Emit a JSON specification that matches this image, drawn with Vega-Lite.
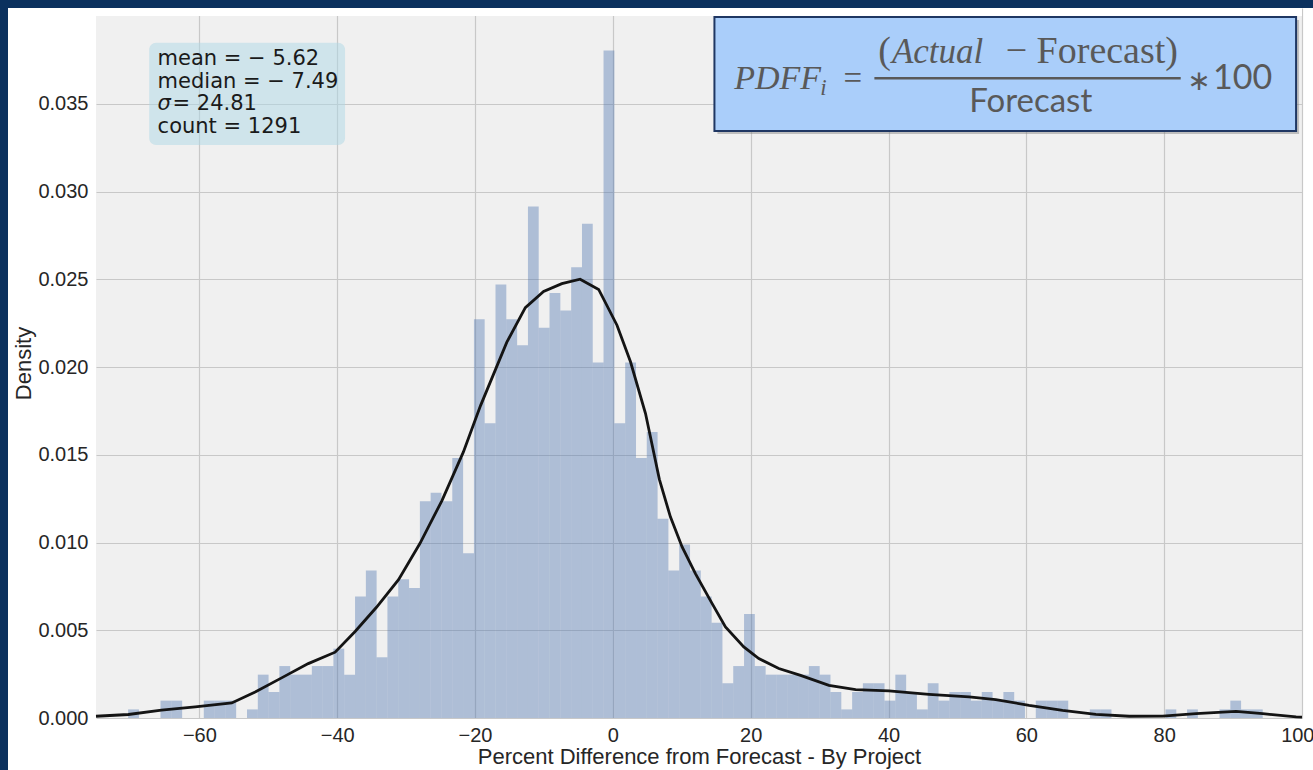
{
  "$schema": "https://vega.github.io/schema/vega-lite/v6.json",
  "padding": 0,
  "background": "#ffffff",
  "config": {
    "view": {"stroke": null},
    "font": "Liberation Sans"
  },
  "datasets": {
    "bins": [
      {"bin_start": -70.34, "bin_end": -68.77, "density": 0.00049},
      {"bin_start": -65.64, "bin_end": -64.07, "density": 0.00099},
      {"bin_start": -64.07, "bin_end": -62.50, "density": 0.00099},
      {"bin_start": -59.36, "bin_end": -57.80, "density": 0.00099},
      {"bin_start": -57.80, "bin_end": -56.23, "density": 0.00099},
      {"bin_start": -56.23, "bin_end": -54.66, "density": 0.00099},
      {"bin_start": -53.09, "bin_end": -51.52, "density": 0.00049},
      {"bin_start": -51.52, "bin_end": -49.96, "density": 0.00247},
      {"bin_start": -49.96, "bin_end": -48.39, "density": 0.00148},
      {"bin_start": -48.39, "bin_end": -46.82, "density": 0.00296},
      {"bin_start": -46.82, "bin_end": -45.25, "density": 0.00247},
      {"bin_start": -45.25, "bin_end": -43.68, "density": 0.00247},
      {"bin_start": -43.68, "bin_end": -42.12, "density": 0.00296},
      {"bin_start": -42.12, "bin_end": -40.55, "density": 0.00296},
      {"bin_start": -40.55, "bin_end": -38.98, "density": 0.00395},
      {"bin_start": -38.98, "bin_end": -37.41, "density": 0.00247},
      {"bin_start": -37.41, "bin_end": -35.84, "density": 0.00692},
      {"bin_start": -35.84, "bin_end": -34.28, "density": 0.00840},
      {"bin_start": -34.28, "bin_end": -32.71, "density": 0.00346},
      {"bin_start": -32.71, "bin_end": -31.14, "density": 0.00692},
      {"bin_start": -31.14, "bin_end": -29.57, "density": 0.00790},
      {"bin_start": -29.57, "bin_end": -28.00, "density": 0.00741},
      {"bin_start": -28.00, "bin_end": -26.44, "density": 0.01235},
      {"bin_start": -26.44, "bin_end": -24.87, "density": 0.01284},
      {"bin_start": -24.87, "bin_end": -23.30, "density": 0.01235},
      {"bin_start": -23.30, "bin_end": -21.73, "density": 0.01482},
      {"bin_start": -21.73, "bin_end": -20.16, "density": 0.00939},
      {"bin_start": -20.16, "bin_end": -18.60, "density": 0.02272},
      {"bin_start": -18.60, "bin_end": -17.03, "density": 0.01680},
      {"bin_start": -17.03, "bin_end": -15.46, "density": 0.02470},
      {"bin_start": -15.46, "bin_end": -13.89, "density": 0.02272},
      {"bin_start": -13.89, "bin_end": -12.32, "density": 0.02124},
      {"bin_start": -12.32, "bin_end": -10.76, "density": 0.02915},
      {"bin_start": -10.76, "bin_end": -9.19, "density": 0.02223},
      {"bin_start": -9.19, "bin_end": -7.62, "density": 0.02421},
      {"bin_start": -7.62, "bin_end": -6.05, "density": 0.02322},
      {"bin_start": -6.05, "bin_end": -4.48, "density": 0.02569},
      {"bin_start": -4.48, "bin_end": -2.92, "density": 0.02816},
      {"bin_start": -2.92, "bin_end": -1.35, "density": 0.02025},
      {"bin_start": -1.35, "bin_end": 0.22, "density": 0.03804},
      {"bin_start": 0.22, "bin_end": 1.79, "density": 0.01680},
      {"bin_start": 1.79, "bin_end": 3.36, "density": 0.02025},
      {"bin_start": 3.36, "bin_end": 4.92, "density": 0.01482},
      {"bin_start": 4.92, "bin_end": 6.49, "density": 0.01630},
      {"bin_start": 6.49, "bin_end": 8.06, "density": 0.01136},
      {"bin_start": 8.06, "bin_end": 9.63, "density": 0.00840},
      {"bin_start": 9.63, "bin_end": 11.20, "density": 0.00988},
      {"bin_start": 11.20, "bin_end": 12.76, "density": 0.00840},
      {"bin_start": 12.76, "bin_end": 14.33, "density": 0.00692},
      {"bin_start": 14.33, "bin_end": 15.90, "density": 0.00543},
      {"bin_start": 15.90, "bin_end": 17.47, "density": 0.00198},
      {"bin_start": 17.47, "bin_end": 19.04, "density": 0.00296},
      {"bin_start": 19.04, "bin_end": 20.60, "density": 0.00593},
      {"bin_start": 20.60, "bin_end": 22.17, "density": 0.00296},
      {"bin_start": 22.17, "bin_end": 23.74, "density": 0.00247},
      {"bin_start": 23.74, "bin_end": 25.31, "density": 0.00247},
      {"bin_start": 25.31, "bin_end": 26.88, "density": 0.00247},
      {"bin_start": 26.88, "bin_end": 28.44, "density": 0.00247},
      {"bin_start": 28.44, "bin_end": 30.01, "density": 0.00296},
      {"bin_start": 30.01, "bin_end": 31.58, "density": 0.00247},
      {"bin_start": 31.58, "bin_end": 33.15, "density": 0.00148},
      {"bin_start": 33.15, "bin_end": 34.72, "density": 0.00049},
      {"bin_start": 34.72, "bin_end": 36.28, "density": 0.00148},
      {"bin_start": 36.28, "bin_end": 37.85, "density": 0.00198},
      {"bin_start": 37.85, "bin_end": 39.42, "density": 0.00198},
      {"bin_start": 39.42, "bin_end": 40.99, "density": 0.00099},
      {"bin_start": 40.99, "bin_end": 42.56, "density": 0.00247},
      {"bin_start": 42.56, "bin_end": 44.12, "density": 0.00148},
      {"bin_start": 44.12, "bin_end": 45.69, "density": 0.00049},
      {"bin_start": 45.69, "bin_end": 47.26, "density": 0.00198},
      {"bin_start": 47.26, "bin_end": 48.83, "density": 0.00099},
      {"bin_start": 48.83, "bin_end": 50.40, "density": 0.00148},
      {"bin_start": 50.40, "bin_end": 51.96, "density": 0.00148},
      {"bin_start": 51.96, "bin_end": 53.53, "density": 0.00099},
      {"bin_start": 53.53, "bin_end": 55.10, "density": 0.00148},
      {"bin_start": 55.10, "bin_end": 56.67, "density": 0.00099},
      {"bin_start": 56.67, "bin_end": 58.24, "density": 0.00148},
      {"bin_start": 58.24, "bin_end": 59.80, "density": 0.00099},
      {"bin_start": 61.37, "bin_end": 62.94, "density": 0.00099},
      {"bin_start": 62.94, "bin_end": 64.51, "density": 0.00099},
      {"bin_start": 64.51, "bin_end": 66.08, "density": 0.00099},
      {"bin_start": 69.21, "bin_end": 70.78, "density": 0.00049},
      {"bin_start": 70.78, "bin_end": 72.35, "density": 0.00049},
      {"bin_start": 80.19, "bin_end": 81.76, "density": 0.00049},
      {"bin_start": 83.32, "bin_end": 84.89, "density": 0.00049},
      {"bin_start": 88.03, "bin_end": 89.60, "density": 0.00049},
      {"bin_start": 89.60, "bin_end": 91.16, "density": 0.00099},
      {"bin_start": 91.16, "bin_end": 92.73, "density": 0.00049},
      {"bin_start": 92.73, "bin_end": 94.30, "density": 0.00049}
    ],
    "kde": [
      {"pct": -75.0, "density": 0.00010},
      {"pct": -70.3, "density": 0.00020},
      {"pct": -65.5, "density": 0.00045},
      {"pct": -60.6, "density": 0.00063},
      {"pct": -55.3, "density": 0.00086},
      {"pct": -51.9, "density": 0.00148},
      {"pct": -48.0, "density": 0.00230},
      {"pct": -44.2, "density": 0.00310},
      {"pct": -40.3, "density": 0.00375},
      {"pct": -37.4, "density": 0.00493},
      {"pct": -34.3, "density": 0.00631},
      {"pct": -31.1, "density": 0.00788},
      {"pct": -28.0, "density": 0.00994},
      {"pct": -24.8, "density": 0.01239},
      {"pct": -21.7, "density": 0.01515},
      {"pct": -19.2, "density": 0.01780},
      {"pct": -15.4, "density": 0.02140},
      {"pct": -12.7, "density": 0.02338},
      {"pct": -10.05, "density": 0.02430},
      {"pct": -7.4, "density": 0.02475},
      {"pct": -4.75, "density": 0.02500},
      {"pct": -2.06, "density": 0.02442},
      {"pct": 0.6, "density": 0.02238},
      {"pct": 2.56, "density": 0.02030},
      {"pct": 4.74, "density": 0.01735},
      {"pct": 6.75, "density": 0.01360},
      {"pct": 8.35, "density": 0.01146},
      {"pct": 10.05, "density": 0.00975},
      {"pct": 11.98, "density": 0.00823},
      {"pct": 14.41, "density": 0.00652},
      {"pct": 16.34, "density": 0.00519},
      {"pct": 19.0, "density": 0.00405},
      {"pct": 21.18, "density": 0.00339},
      {"pct": 24.08, "density": 0.00282},
      {"pct": 27.24, "density": 0.00243},
      {"pct": 31.35, "density": 0.00186},
      {"pct": 35.23, "density": 0.00162},
      {"pct": 40.06, "density": 0.00154},
      {"pct": 45.87, "density": 0.00135},
      {"pct": 51.69, "density": 0.00120},
      {"pct": 55.56, "density": 0.00105},
      {"pct": 60.4, "density": 0.00072},
      {"pct": 65.25, "density": 0.00044},
      {"pct": 70.09, "density": 0.00021},
      {"pct": 74.93, "density": 0.00010},
      {"pct": 79.78, "density": 0.00011},
      {"pct": 84.62, "density": 0.00025},
      {"pct": 90.43, "density": 0.00038},
      {"pct": 94.3, "density": 0.00025},
      {"pct": 99.14, "density": 0.00006},
      {"pct": 100.0, "density": 0.00005}
    ]
  },
  "columns": 1,
  "spacing": 0,
  "concat": [
    {
      "width": 1313,
      "height": 8,
      "view": {"fill": "#0b315e", "stroke": null},
      "data": {"values": [{}]},
      "mark": {"type": "rect", "opacity": 0},
      "encoding": {}
    },
    {
      "spacing": 4,
      "hconcat": [
        {
          "width": 8,
          "height": 762,
          "view": {"fill": "#0b315e", "stroke": null},
          "data": {"values": [{}]},
          "mark": {"type": "rect", "opacity": 0},
          "encoding": {}
        },
        {
          "width": 1206,
          "height": 710,
          "view": {"fill": "#f0f0f0", "stroke": null},
          "layer": [
            {
              "data": {"name": "bins"},
              "mark": {"type": "rect", "color": "#4c72b0", "opacity": 0.4},
              "encoding": {
                "x": {
                  "field": "bin_start",
                  "type": "quantitative",
                  "scale": {"domain": [-75, 100], "nice": false, "zero": false},
                  "axis": {
                    "title": "Percent Difference from Forecast - By Project",
                    "values": [-60, -40, -20, 0, 20, 40, 60, 80, 100],
                    "labelExpr": "replace(datum.label, '-', '−')",
                    "labelFont": "Liberation Sans",
                    "labelFontSize": 20,
                    "labelColor": "#262626",
                    "labelPadding": 7,
                    "labelFlush": true,
                    "labelFlushOffset": 12,
                    "titleFont": "Liberation Sans",
                    "titleFontSize": 22,
                    "titleFontWeight": "normal",
                    "titleColor": "#262626",
                    "titlePadding": 1,
                    "ticks": false,
                    "domain": false,
                    "grid": true,
                    "gridColor": "#c8c8c8",
                    "gridWidth": 1.2
                  }
                },
                "x2": {"field": "bin_end"},
                "y": {
                  "field": "density",
                  "type": "quantitative",
                  "scale": {"domain": [0, 0.040456], "nice": false},
                  "axis": {
                    "title": "Density",
                    "values": [0, 0.005, 0.01, 0.015, 0.02, 0.025, 0.03, 0.035],
                    "format": ".3f",
                    "labelFont": "Liberation Sans",
                    "labelFontSize": 20,
                    "labelColor": "#262626",
                    "labelPadding": 8,
                    "titleFont": "Liberation Sans",
                    "titleFontSize": 22,
                    "titleFontWeight": "normal",
                    "titleColor": "#262626",
                    "titlePadding": 2,
                    "ticks": false,
                    "domain": false,
                    "grid": true,
                    "gridColor": "#c8c8c8",
                    "gridWidth": 1.2
                  }
                },
                "y2": {"datum": 0}
              }
            },
            {
              "data": {"name": "kde"},
              "mark": {"type": "line", "color": "#141414", "strokeWidth": 2.8},
              "encoding": {
                "x": {"field": "pct", "type": "quantitative"},
                "y": {"field": "density", "type": "quantitative"}
              }
            },
            {
              "data": {"values": [{}]},
              "mark": {"type": "rect", "fill": "#ffffff"},
              "encoding": {
                "x": {"datum": -75},
                "x2": {"datum": 100},
                "y": {"datum": 0.04},
                "y2": {"datum": 0.040456}
              }
            },
            {
              "data": {"values": [{}]},
              "mark": {"type": "rect", "fill": "#add8e6", "opacity": 0.5, "cornerRadius": 7},
              "encoding": {
                "x": {"datum": -67.28},
                "x2": {"datum": -38.86},
                "y": {"datum": 0.03848},
                "y2": {"datum": 0.03265}
              }
            },
            {
              "data": {"values": [{}]},
              "mark": {"type": "text", "text": "mean = − 5.62", "font": "DejaVu Sans", "fontSize": 21, "align": "left", "baseline": "alphabetic", "color": "#1a1a1a"},
              "encoding": {"x": {"datum": -66.06}, "y": {"datum": 0.03721}}
            },
            {
              "data": {"values": [{}]},
              "mark": {"type": "text", "text": "median = − 7.49", "font": "DejaVu Sans", "fontSize": 21, "align": "left", "baseline": "alphabetic", "color": "#1a1a1a"},
              "encoding": {"x": {"datum": -66.06}, "y": {"datum": 0.03592}}
            },
            {
              "data": {"values": [{}]},
              "mark": {"type": "text", "text": "σ", "font": "DejaVu Sans", "fontStyle": "italic", "fontSize": 21, "align": "left", "baseline": "alphabetic", "color": "#1a1a1a"},
              "encoding": {"x": {"datum": -66.06}, "y": {"datum": 0.03464}}
            },
            {
              "data": {"values": [{}]},
              "mark": {"type": "text", "text": "= 24.81", "font": "DejaVu Sans", "fontSize": 21, "align": "left", "baseline": "alphabetic", "color": "#1a1a1a"},
              "encoding": {"x": {"datum": -63.9}, "y": {"datum": 0.03464}}
            },
            {
              "data": {"values": [{}]},
              "mark": {"type": "text", "text": "count = 1291", "font": "DejaVu Sans", "fontSize": 21, "align": "left", "baseline": "alphabetic", "color": "#1a1a1a"},
              "encoding": {"x": {"datum": -66.06}, "y": {"datum": 0.03335}}
            },
            {
              "data": {"values": [{}]},
              "mark": {"type": "rect", "fill": "#808080", "opacity": 0.45, "xOffset": 3, "x2Offset": 3, "yOffset": 3, "y2Offset": 3},
              "encoding": {
                "x": {"datum": 14.74},
                "x2": {"datum": 99.14},
                "y": {"datum": 0.03995},
                "y2": {"datum": 0.03345}
              }
            },
            {
              "data": {"values": [{}]},
              "mark": {"type": "rect", "fill": "#aacefa", "stroke": "#1f3763", "strokeWidth": 2},
              "encoding": {
                "x": {"datum": 14.74},
                "x2": {"datum": 99.14},
                "y": {"datum": 0.03995},
                "y2": {"datum": 0.03345}
              }
            },
            {
              "data": {"values": [{}]},
              "mark": {"type": "text", "text": "PDFF", "font": "Liberation Serif", "fontStyle": "italic", "fontSize": 34, "align": "left", "baseline": "alphabetic", "color": "#595959"},
              "encoding": {"x": {"datum": 17.6}, "y": {"datum": 0.03583}}
            },
            {
              "data": {"values": [{}]},
              "mark": {"type": "text", "text": "i", "font": "Liberation Serif", "fontStyle": "italic", "fontSize": 23, "align": "left", "baseline": "alphabetic", "color": "#595959"},
              "encoding": {"x": {"datum": 30.1}, "y": {"datum": 0.0355}}
            },
            {
              "data": {"values": [{}]},
              "mark": {"type": "text", "text": "=", "font": "Liberation Serif", "fontSize": 33, "align": "left", "baseline": "alphabetic", "color": "#595959"},
              "encoding": {"x": {"datum": 33.48}, "y": {"datum": 0.03583}}
            },
            {
              "data": {"values": [{}]},
              "mark": {"type": "text", "text": "(", "font": "Liberation Serif", "fontSize": 38, "align": "left", "baseline": "alphabetic", "color": "#595959"},
              "encoding": {"x": {"datum": 38.5}, "y": {"datum": 0.03731}}
            },
            {
              "data": {"values": [{}]},
              "mark": {"type": "text", "text": "Actual", "font": "Liberation Serif", "fontStyle": "italic", "fontSize": 35, "align": "left", "baseline": "alphabetic", "color": "#595959"},
              "encoding": {"x": {"datum": 40.5}, "y": {"datum": 0.03731}}
            },
            {
              "data": {"values": [{}]},
              "mark": {"type": "text", "text": "− Forecast)", "font": "Liberation Serif", "fontSize": 38, "align": "left", "baseline": "alphabetic", "color": "#595959"},
              "encoding": {"x": {"datum": 57.0}, "y": {"datum": 0.03731}}
            },
            {
              "data": {"values": [{}]},
              "mark": {"type": "rule", "color": "#595959", "strokeWidth": 2.5},
              "encoding": {"x": {"datum": 37.95}, "x2": {"datum": 82.4}, "y": {"datum": 0.03645}}
            },
            {
              "data": {"values": [{}]},
              "mark": {"type": "text", "text": "Forecast", "font": "Lato", "fontSize": 33, "align": "center", "baseline": "alphabetic", "color": "#595959"},
              "encoding": {"x": {"datum": 60.64}, "y": {"datum": 0.03455}}
            },
            {
              "data": {"values": [{}]},
              "mark": {"type": "text", "text": "∗", "font": "DejaVu Sans", "fontSize": 28, "align": "center", "baseline": "middle", "color": "#595959"},
              "encoding": {"x": {"datum": 85.05}, "y": {"datum": 0.03624}}
            },
            {
              "data": {"values": [{}]},
              "mark": {"type": "text", "text": "100", "font": "Lato", "fontSize": 34, "align": "left", "baseline": "alphabetic", "color": "#595959"},
              "encoding": {"x": {"datum": 87.08}, "y": {"datum": 0.03583}}
            }
          ]
        }
      ]
    }
  ]
}
